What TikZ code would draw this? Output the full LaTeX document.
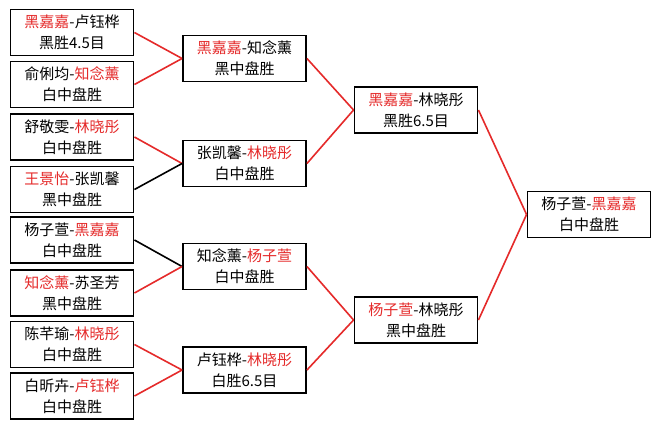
\documentclass[tikz,border=0pt]{standalone}
\usepackage{fontspec}
\setmainfont{Noto Sans CJK SC}
\usetikzlibrary{positioning}
\definecolor{ink}{HTML}{000000}
\definecolor{wincol}{HTML}{E52A2A}
\newcommand{\win}[1]{\textcolor{wincol}{#1}}

\begin{document}
\begin{tikzpicture}[x=1pt, y=-1pt,
  font=\fontsize{15}{21}\selectfont,
  game/.style={draw=ink, line width=1.9pt, minimum width=123pt,
               minimum height=46pt, inner sep=0pt, align=center},
  wl/.style={wincol, line width=1.6pt},
  ll/.style={ink, line width=1.6pt}]
\useasboundingbox[fill=white] (0,0) rectangle (660,429);

\def\xa{72}
\def\xb{244.5}
\def\xc{416}
\def\xd{589}

% ---- round 1 -----------------------------------------------------------
\node[game] (a1) at (\xa,32.5)  {\win{黑嘉嘉}-卢钰桦\\黑胜4.5目};
\node[game] (a2) at (\xa,84.5)  {俞俐均-\win{知念薰}\\白中盘胜};
\node[game] (a3) at (\xa,137)   {舒敬雯-\win{林晓彤}\\白中盘胜};
\node[game] (a4) at (\xa,189.5) {\win{王景怡}-张凯馨\\黑中盘胜};
\node[game] (a5) at (\xa,240)   {杨子萱-\win{黑嘉嘉}\\白中盘胜};
\node[game] (a6) at (\xa,293)   {\win{知念薰}-苏圣芳\\黑中盘胜};
\node[game] (a7) at (\xa,344.5) {陈芊瑜-\win{林晓彤}\\白中盘胜};
\node[game] (a8) at (\xa,396)   {白昕卉-\win{卢钰桦}\\白中盘胜};

% ---- round 2 -----------------------------------------------------------
\node[game] (b1) at (\xb,58.5)  {\win{黑嘉嘉}-知念薰\\黑中盘胜};
\node[game] (b2) at (\xb,163.5) {张凯馨-\win{林晓彤}\\白中盘胜};
\node[game] (b3) at (\xb,266.5) {知念薰-\win{杨子萱}\\白中盘胜};
\node[game] (b4) at (\xb,370)   {卢钰桦-\win{林晓彤}\\白胜6.5目};

% ---- semi-finals -------------------------------------------------------
\node[game] (c1) at (\xc,110)   {\win{黑嘉嘉}-林晓彤\\黑胜6.5目};
\node[game] (c2) at (\xc,320)   {\win{杨子萱}-林晓彤\\黑中盘胜};

% ---- final -------------------------------------------------------------
\node[game] (d1) at (\xd,214.5) {杨子萱-\win{黑嘉嘉}\\白中盘胜};

% ---- connectors --------------------------------------------------------
\draw[wl] (a1.east) -- (b1.west);
\draw[wl] (a2.east) -- (b1.west);
\draw[wl] (a3.east) -- (b2.west);
\draw[ll] (a4.east) -- (b2.west);
\draw[ll] (a5.east) -- (b3.west);
\draw[wl] (a6.east) -- (b3.west);
\draw[wl] (a7.east) -- (b4.west);
\draw[wl] (a8.east) -- (b4.west);

\draw[wl] (b1.east) -- (c1.west);
\draw[wl] (b2.east) -- (c1.west);
\draw[wl] (b3.east) -- (c2.west);
\draw[wl] (b4.east) -- (c2.west);

\draw[wl] (c1.east) -- (d1.west);
\draw[wl] (c2.east) -- (d1.west);

\end{tikzpicture}
\end{document}
